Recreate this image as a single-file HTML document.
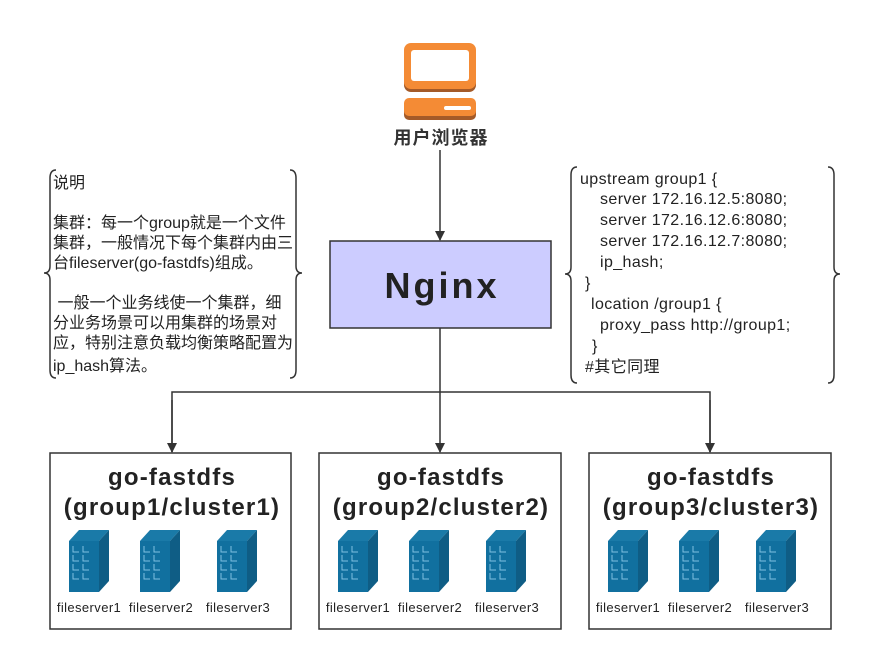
<!DOCTYPE html>
<html><head><meta charset="utf-8"><style>
body{margin:0;background:#fff;}
svg text{font-family:"Liberation Sans","Noto Sans CJK SC",sans-serif;fill:#222;}
</style></head><body>
<svg width="874" height="667" viewBox="0 0 874 667" xmlns="http://www.w3.org/2000/svg">
<defs>
<marker id="ar" markerWidth="10" markerHeight="10" refX="9" refY="5" orient="auto" markerUnits="userSpaceOnUse">
<path d="M0,0 L10,5 L0,10 Z" fill="#333"/></marker>
<g id="srv">
<path d="M0,11 L10,0 L40,0 L30,11 Z" fill="#1a7aa8"/>
<path d="M30,11 L40,0 L40,51 L30,62 Z" fill="#0f5d85"/>
<rect x="0" y="11" width="30" height="51" fill="#11709f"/>
<g stroke="#7fc0e0" stroke-width="1" fill="none">
<path d="M4,16v6h6 M14,16v6h6 M4,25v6h6 M14,25v6h6 M4,34v6h6 M14,34v6h6 M4,43v6h6 M14,43v6h6"/>
</g>
</g>
</defs>
<rect x="404" y="45" width="72" height="47" rx="7" fill="#a45a28"/>
<rect x="404" y="43" width="72" height="46" rx="7" fill="#f48b35"/>
<rect x="411" y="50" width="58" height="31" rx="3" fill="#fff"/>
<rect x="404" y="100" width="72" height="20" rx="5" fill="#a45a28"/>
<rect x="404" y="98" width="72" height="18" rx="5" fill="#f48b35"/>
<rect x="444" y="106" width="27" height="4" rx="2" fill="#fff"/>
<text x="441" y="144" text-anchor="middle" font-size="18" font-weight="bold" letter-spacing="1" style="fill:#333">用户浏览器</text>
<line x1="440" y1="150" x2="440" y2="240" stroke="#333" stroke-width="1.5" marker-end="url(#ar)"/>
<line x1="440" y1="328" x2="440" y2="452" stroke="#333" stroke-width="1.5" marker-end="url(#ar)"/>
<polyline points="172,452 172,392 710,392 710,452" fill="none" stroke="#333" stroke-width="1.5"/>
<line x1="172" y1="400" x2="172" y2="452" stroke="#333" stroke-width="1.5" marker-end="url(#ar)"/>
<line x1="710" y1="400" x2="710" y2="452" stroke="#333" stroke-width="1.5" marker-end="url(#ar)"/>
<rect x="330" y="241" width="221" height="87" fill="#ccccff" stroke="#333" stroke-width="1.5"/>
<text x="442" y="298" text-anchor="middle" font-size="36" font-weight="bold" letter-spacing="3" style="fill:#222">Nginx</text>
<g fill="none" stroke="#333" stroke-width="1.5">
<path d="M56,170 Q50,170 50,178 L50,266 Q50,273 44,273 Q50,273 50,280 L50,370 Q50,378 56,378"/>
<path d="M290,170 Q296,170 296,178 L296,266 Q296,273 302,273 Q296,273 296,280 L296,370 Q296,378 290,378"/>
<path d="M577,167 Q571,167 571,175 L571,267 Q571,274 565,274 Q571,274 571,281 L571,375 Q571,383 577,383"/>
<path d="M828,167 Q834,167 834,175 L834,267 Q834,274 840,274 Q834,274 834,281 L834,375 Q834,383 828,383"/>
</g>
<g font-size="16">
<text x="53" y="188">说明</text>
<text x="53" y="228">集群：每一个group就是一个文件</text>
<text x="53" y="248">集群，一般情况下每个集群内由三</text>
<text x="53" y="268">台fileserver(go-fastdfs)组成。</text>
<text x="53" y="308" xml:space="preserve"> 一般一个业务线使一个集群，细</text>
<text x="53" y="328">分业务场景可以用集群的场景对</text>
<text x="53" y="348">应，特别注意负载均衡策略配置为</text>
<text x="53" y="371">ip_hash算法。</text>
</g>
<g font-size="16" letter-spacing="0.4">
<text x="580" y="184">upstream group1 {</text>
<text x="600" y="204">server 172.16.12.5:8080;</text>
<text x="600" y="225">server 172.16.12.6:8080;</text>
<text x="600" y="246">server 172.16.12.7:8080;</text>
<text x="600" y="267">ip_hash;</text>
<text x="585" y="288">}</text>
<text x="591" y="309">location /group1 {</text>
<text x="600" y="330">proxy_pass http://group1;</text>
<text x="592" y="351">}</text>
<text x="585" y="372">#其它同理</text>
</g>
<g fill="#fff" stroke="#333" stroke-width="1.5">
<rect x="50" y="453" width="241" height="176"/>
<rect x="319" y="453" width="242" height="176"/>
<rect x="589" y="453" width="242" height="176"/>
</g>
<g font-size="24" font-weight="bold" text-anchor="middle" letter-spacing="1.2">
<text x="172" y="485">go-fastdfs</text><text x="172" y="515">(group1/cluster1)</text>
<text x="441" y="485">go-fastdfs</text><text x="441" y="515">(group2/cluster2)</text>
<text x="711" y="485">go-fastdfs</text><text x="711" y="515">(group3/cluster3)</text>
</g>
<use href="#srv" x="69" y="530"/><use href="#srv" x="140" y="530"/><use href="#srv" x="217" y="530"/>
<use href="#srv" x="338" y="530"/><use href="#srv" x="409" y="530"/><use href="#srv" x="486" y="530"/>
<use href="#srv" x="608" y="530"/><use href="#srv" x="679" y="530"/><use href="#srv" x="756" y="530"/>
<g font-size="13" text-anchor="middle" letter-spacing="0.4">
<text x="89" y="612">fileserver1</text><text x="161" y="612">fileserver2</text><text x="238" y="612">fileserver3</text>
<text x="358" y="612">fileserver1</text><text x="430" y="612">fileserver2</text><text x="507" y="612">fileserver3</text>
<text x="628" y="612">fileserver1</text><text x="700" y="612">fileserver2</text><text x="777" y="612">fileserver3</text>
</g>
</svg>
</body></html>
